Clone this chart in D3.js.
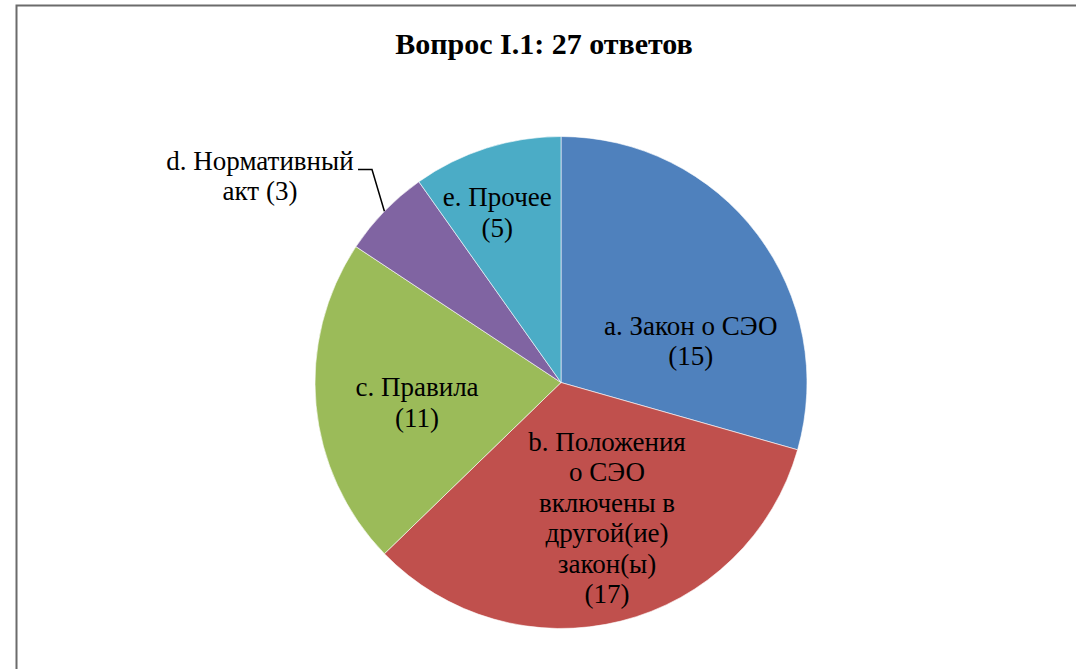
<!DOCTYPE html>
<html>
<head>
<meta charset="utf-8">
<script src="https://cdn.jsdelivr.net/npm/d3@7"></script>
<style>
  html, body { margin: 0; padding: 0; background: #fff; }
  svg { display: block; }
  text { font-family: "Liberation Serif", "Times New Roman", Times, "DejaVu Serif", serif; }
</style>
</head>
<body>
<svg id="chart" width="1076" height="669"></svg>
<script>
// chart data
const title = "Вопрос I.1: 27 ответов";
const categories = ["a", "b", "c", "d", "e"];
const values = [15, 17, 11, 3, 5];
const labelLines = [
    ["a. Закон о СЭО", "(15)"],
    ["b. Положения", "о СЭО", "включены в", "другой(ие)", "закон(ы)", "(17)"],
    ["c. Правила", "(11)"],
    ["d. Нормативный", "акт (3)"],
    ["e. Прочее", "(5)"]
];
const colors = ["#4F81BD", "#C0504D", "#9BBB59", "#8064A2", "#4BACC6"];

const svg = d3.select("#chart");
const cx = 561, cy = 382.5, radius = 246;
const lineH = 30.5;

// frame (only left + top edges are visible in the crop)
svg.append("rect")
    .attr("x", 16.5).attr("y", 5.5)
    .attr("width", 1100).attr("height", 700)
    .attr("fill", "none")
    .attr("stroke", "#6b6b6b")
    .attr("stroke-width", 2);

svg.append("text")
    .attr("x", 544).attr("y", 54)
    .attr("text-anchor", "middle")
    .style("font-weight", "bold")
    .style("font-size", "30px")
    .text(title);

const pie = d3.pie().sort(null).value(d => d)(values);
const arc = d3.arc().innerRadius(0).outerRadius(radius);

const g = svg.append("g").attr("transform", `translate(${cx},${cy})`);

g.selectAll(".slice")
    .data(pie)
    .enter()
    .append("path")
    .attr("class", "slice")
    .attr("fill", (d, i) => colors[i])
    .attr("stroke", "#ffffff")
    .attr("stroke-width", 0.6)
    .attr("d", arc);

// label placement: centroid of a mid ring, then a nudge to match the Excel layout
const labelArc = d3.arc().innerRadius(radius * 0.6).outerRadius(radius * 0.6);
const nudges = [[12, 47], [10, -8], [3, 6], [0, 0], [-19, -30]];

pie.forEach((d, i) => {
    let x, y;
    if (i === 3) {
        // outside label with leader line
        x = -301; y = -207;
    } else {
        const c = labelArc.centroid(d);
        x = c[0] + nudges[i][0];
        y = c[1] + nudges[i][1];
    }
    const lines = labelLines[i];
    const t = g.append("text")
        .attr("text-anchor", "middle")
        .style("font-size", "27px")
        .attr("fill", "#000");
    lines.forEach((s, j) => {
        t.append("tspan")
            .attr("x", x)
            .attr("y", y + (j - (lines.length - 1) / 2) * lineH)
            .attr("dy", "0.35em")
            .text(s);
    });
});

// leader line for d
const dMid = (pie[3].startAngle + pie[3].endAngle) / 2;
const edge = [Math.sin(dMid) * radius, -Math.cos(dMid) * radius];
g.append("path")
    .attr("fill", "none")
    .attr("stroke", "#000")
    .attr("stroke-width", 1.5)
    .attr("d", d3.line()([[-203, -213], [-189, -213], edge]));
</script>
</body>
</html>
